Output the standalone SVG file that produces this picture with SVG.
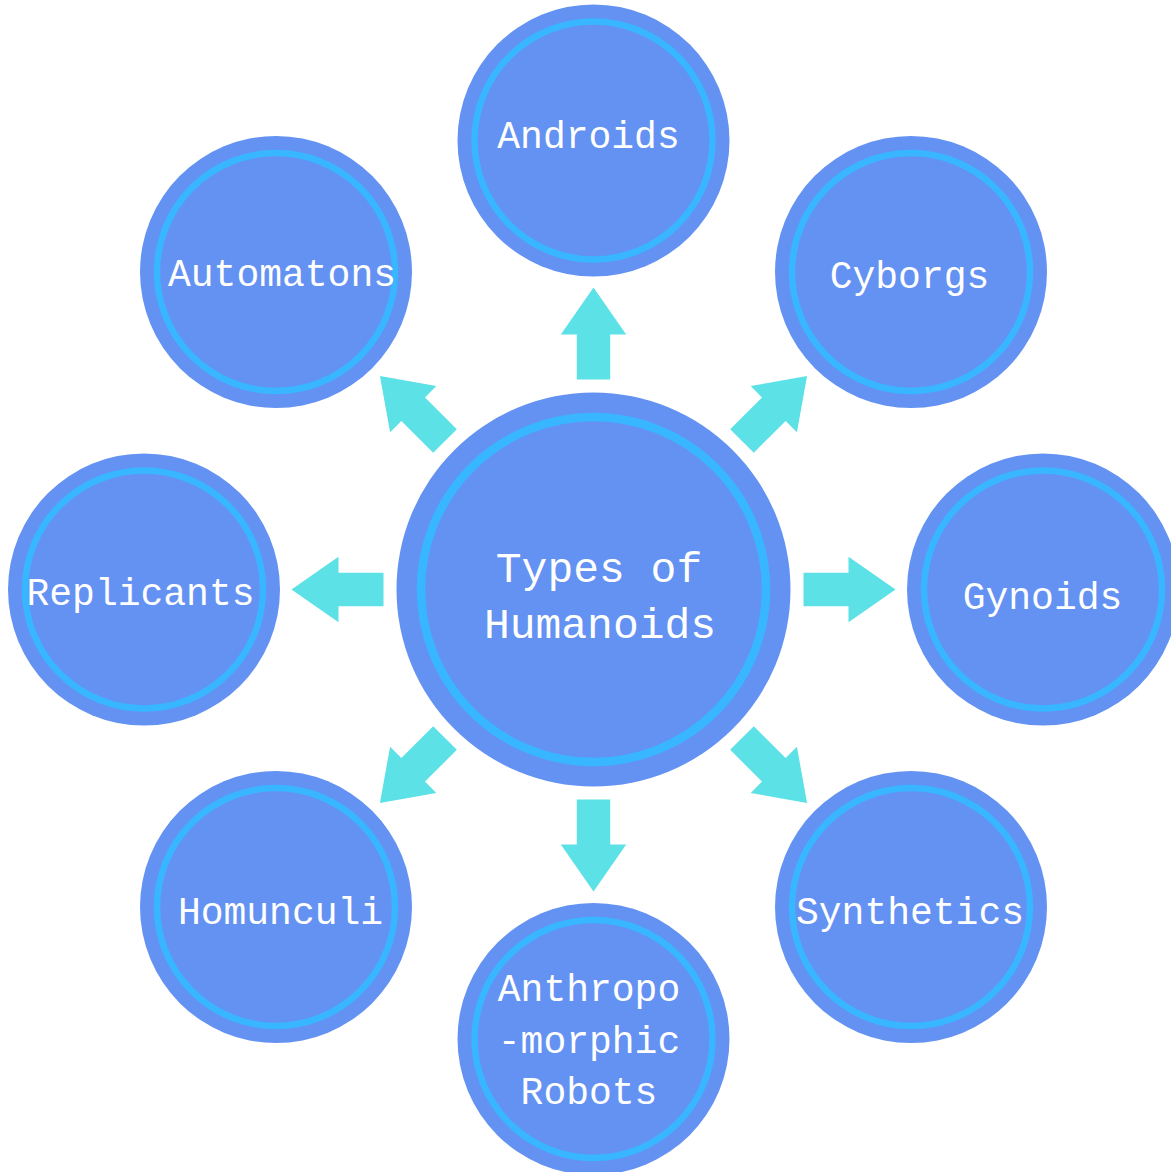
<svg xmlns="http://www.w3.org/2000/svg" width="1171" height="1172" viewBox="0 0 1171 1172">
  <style>
    .disc { fill: #6492F2; }
    .ring { fill: none; stroke: #38B6FF; }
    .hub .ring { stroke-width: 8.5; }
    .leaf .ring { stroke-width: 6.5; }
    .label { fill: #FFFFFF; font-family: "Liberation Mono", "DejaVu Sans Mono", monospace; text-anchor: middle; }
    .leaf .label { font-size: 38px; }
    .hub .label { font-size: 43px; }
    .arrow { fill: #5CE1E6; }
  </style>
  <defs>
    <!-- block arrow pointing up, measured from the hub centre -->
    <path id="spoke" class="arrow" d="M -16.7,-210 L -16.7,-255 L -32.7,-255 L 0,-302 L 32.7,-255 L 16.7,-255 L 16.7,-210 Z"/>
  </defs>
  <rect width="1171" height="1172" fill="#FFFFFF"/>

  <!-- connectors: eight spokes radiating from the hub -->
  <g id="connectors" transform="translate(593.5,589.5)">
    <use href="#spoke" transform="rotate(0)"/>
    <use href="#spoke" transform="rotate(45)"/>
    <use href="#spoke" transform="rotate(90)"/>
    <use href="#spoke" transform="rotate(135)"/>
    <use href="#spoke" transform="rotate(180)"/>
    <use href="#spoke" transform="rotate(225)"/>
    <use href="#spoke" transform="rotate(270)"/>
    <use href="#spoke" transform="rotate(315)"/>
  </g>

  <!-- hub -->
  <g id="types-of-humanoids" class="hub">
    <circle class="disc" cx="593.5" cy="589.5" r="197"/>
    <circle class="ring" cx="593.5" cy="589.5" r="172.5"/>
    <text class="label" x="599" y="582">Types of</text>
    <text class="label" x="600" y="638">Humanoids</text>
  </g>

  <!-- outer nodes -->
  <g id="androids" class="leaf">
    <circle class="disc" cx="593.5" cy="140.5" r="136"/>
    <circle class="ring" cx="593.5" cy="140.5" r="119"/>
    <text class="label" x="588.5" y="148">Androids</text>
  </g>
  <g id="cyborgs" class="leaf">
    <circle class="disc" cx="911" cy="272" r="136"/>
    <circle class="ring" cx="911" cy="272" r="119"/>
    <text class="label" x="909.5" y="288">Cyborgs</text>
  </g>
  <g id="gynoids" class="leaf">
    <circle class="disc" cx="1043" cy="589.5" r="136"/>
    <circle class="ring" cx="1043" cy="589.5" r="119"/>
    <text class="label" x="1042.5" y="609">Gynoids</text>
  </g>
  <g id="synthetics" class="leaf">
    <circle class="disc" cx="911" cy="907" r="136"/>
    <circle class="ring" cx="911" cy="907" r="119"/>
    <text class="label" x="910" y="924">Synthetics</text>
  </g>
  <g id="anthropomorphic-robots" class="leaf">
    <circle class="disc" cx="593.5" cy="1039" r="136"/>
    <circle class="ring" cx="593.5" cy="1039" r="119"/>
    <text class="label" x="589" y="1001">Anthropo</text>
    <text class="label" x="589" y="1053">-morphic</text>
    <text class="label" x="589" y="1104">Robots</text>
  </g>
  <g id="homunculi" class="leaf">
    <circle class="disc" cx="276" cy="907" r="136"/>
    <circle class="ring" cx="276" cy="907" r="119"/>
    <text class="label" x="280.5" y="924">Homunculi</text>
  </g>
  <g id="replicants" class="leaf">
    <circle class="disc" cx="144" cy="589.5" r="136"/>
    <circle class="ring" cx="144" cy="589.5" r="119"/>
    <text class="label" x="140.5" y="605">Replicants</text>
  </g>
  <g id="automatons" class="leaf">
    <circle class="disc" cx="276" cy="272" r="136"/>
    <circle class="ring" cx="276" cy="272" r="119"/>
    <text class="label" x="282" y="286">Automatons</text>
  </g>
</svg>
